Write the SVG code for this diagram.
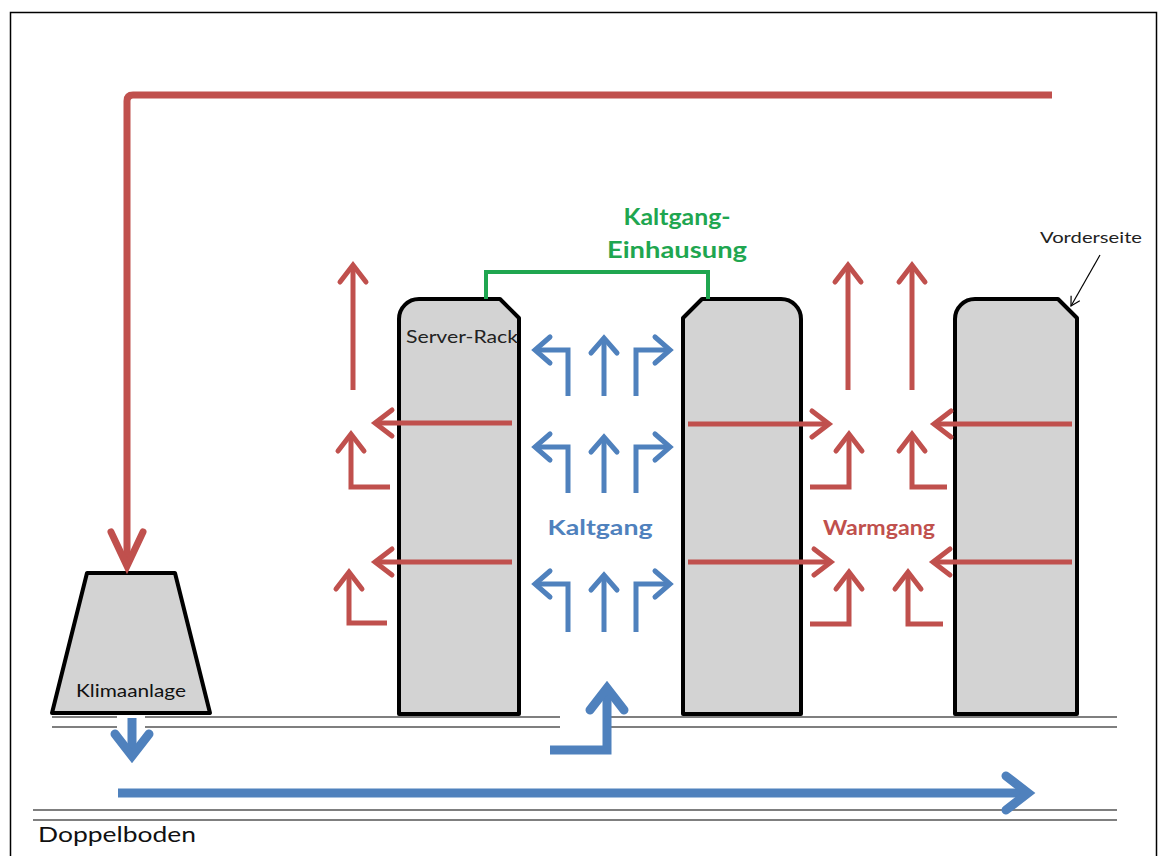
<svg xmlns="http://www.w3.org/2000/svg" width="1158" height="856" viewBox="0 0 1158 856">
<style>
.rack{fill:#d3d3d3;stroke:#000;stroke-width:4;stroke-linejoin:round}
.floor{stroke:#555;stroke-width:1.5;fill:none}
.r5{stroke:#c0504d;stroke-width:5;fill:none;marker-end:url(#hr)}
.b5{stroke:#4f81bd;stroke-width:5;fill:none;marker-end:url(#hb)}
.b9{stroke:#4f81bd;stroke-width:9;fill:none;marker-end:url(#hbl)}
.lbl{font-family:Lato,"Liberation Sans",sans-serif}
</style>
<defs>
<marker id="hr" markerUnits="userSpaceOnUse" orient="auto" overflow="visible" markerWidth="1" markerHeight="1"><path d="M-17,-13 L0,0 L-17,13" fill="none" stroke="#c0504d" stroke-width="5" stroke-linecap="round"/></marker>
<marker id="hrl" markerUnits="userSpaceOnUse" orient="auto" overflow="visible" markerWidth="1" markerHeight="1"><path d="M-34,-16 L0,0 L-34,16" fill="none" stroke="#c0504d" stroke-width="7" stroke-linecap="round"/></marker>
<marker id="hb" markerUnits="userSpaceOnUse" orient="auto" overflow="visible" markerWidth="1" markerHeight="1"><path d="M-15,-13 L0,0 L-15,13" fill="none" stroke="#4f81bd" stroke-width="5" stroke-linecap="round"/></marker>
<marker id="hbl" markerUnits="userSpaceOnUse" orient="auto" overflow="visible" markerWidth="1" markerHeight="1"><path d="M-22,-17 L0,0 L-22,17" fill="none" stroke="#4f81bd" stroke-width="9" stroke-linecap="round"/></marker>
<marker id="hk" markerUnits="userSpaceOnUse" orient="auto" overflow="visible" markerWidth="1" markerHeight="1"><path d="M-9,-5 L0,0 L-9,5" fill="none" stroke="#000" stroke-width="1.2"/></marker>
</defs>
<rect x="0" y="0" width="1158" height="856" fill="#fff"/>
<rect x="10.5" y="12.5" width="1146" height="860" fill="none" stroke="#000" stroke-width="1.5"/>

<g id="floor">
<path class="floor" d="M52 717H117M145 717H560M608 717H1117M52 727H117M145 727H560M608 727H1117M33 810H1117M33 820H1117"/>
</g>

<g id="klimaanlage">
<path class="rack" d="M87 573 L175 573 L210 713 L52 713 Z"/>
<text class="lbl" x="76" y="697" font-size="18" textLength="110" lengthAdjust="spacingAndGlyphs" fill="#111">Klimaanlage</text>
</g>

<g id="rack1">
<path class="rack" d="M399 714 L399 319 A20 20 0 0 1 419 299 L500 299 L519 318 L519 714 Z"/>
</g>
<g id="rack2">
<path class="rack" d="M683 714 L683 318 L702 299 L781 299 A20 20 0 0 1 801 319 L801 714 Z"/>
</g>
<g id="rack3">
<path class="rack" d="M955 714 L955 319 A20 20 0 0 1 975 299 L1058 299 L1077 318 L1077 714 Z"/>
</g>

<g id="einhausung">
<path d="M486 299 L486 272 L708 272 L708 299" fill="none" stroke="#1fa650" stroke-width="4"/>
</g>

<g id="connectors">
<path d="M1052 95 L133 95 Q127 95 127 101 L127 566" fill="none" stroke="#c0504d" stroke-width="7" marker-end="url(#hrl)"/>
<path class="r5" d="M353 390 L353 265"/>
<path class="r5" d="M512 423 L375 423"/>
<path class="r5" d="M390 487 L351 487 L351 434"/>
<path class="r5" d="M512 562 L375 562"/>
<path class="r5" d="M387 623 L349 623 L349 572"/>
<path class="r5" d="M848 390 L848 265"/>
<path class="r5" d="M912 390 L912 265"/>
<path class="r5" d="M688 424 L829 424"/>
<path class="r5" d="M1072 424 L934 424"/>
<path class="r5" d="M810 487 L849 487 L849 434"/>
<path class="r5" d="M947 487 L912 487 L912 434"/>
<path class="r5" d="M688 562 L831 562"/>
<path class="r5" d="M1072 562 L933 562"/>
<path class="r5" d="M810 624 L849 624 L849 572"/>
<path class="r5" d="M943 624 L908 624 L908 572"/>
<path class="b5" d="M568 396 L568 350 L535 350"/>
<path class="b5" d="M604 396 L604 338"/>
<path class="b5" d="M636 396 L636 350 L670 350"/>
<path class="b5" d="M568 493 L568 447 L535 447"/>
<path class="b5" d="M604 493 L604 437"/>
<path class="b5" d="M636 493 L636 447 L670 447"/>
<path class="b5" d="M568 632 L568 584 L535 584"/>
<path class="b5" d="M604 632 L604 575"/>
<path class="b5" d="M636 632 L636 584 L670 584"/>
<path class="b9" d="M132 718 L132 756"/>
<path class="b9" d="M550 750 L607 750 L607 688"/>
<path class="b9" d="M118 793 L1028 793"/>
<path d="M1100 255 L1071 306" fill="none" stroke="#000" stroke-width="1.2" marker-end="url(#hk)"/>
</g>

<g id="labels">
<text class="lbl" x="677" y="225" font-size="22" font-weight="bold" fill="#1fa650" text-anchor="middle" textLength="107" lengthAdjust="spacingAndGlyphs">Kaltgang-</text>
<text class="lbl" x="677" y="258" font-size="22" font-weight="bold" fill="#1fa650" text-anchor="middle" textLength="140" lengthAdjust="spacingAndGlyphs">Einhausung</text>
<text class="lbl" x="600" y="535" font-size="20" font-weight="bold" fill="#4f81bd" text-anchor="middle" textLength="105" lengthAdjust="spacingAndGlyphs">Kaltgang</text>
<text class="lbl" x="879" y="535" font-size="20" font-weight="bold" fill="#c0504d" text-anchor="middle" textLength="112" lengthAdjust="spacingAndGlyphs">Warmgang</text>
<text class="lbl" x="406" y="343" font-size="17" fill="#222" textLength="112" lengthAdjust="spacingAndGlyphs">Server-Rack</text>
<text class="lbl" x="1040" y="243" font-size="16" fill="#222" textLength="102" lengthAdjust="spacingAndGlyphs">Vorderseite</text>
<text class="lbl" x="38" y="842" font-size="22" fill="#111" textLength="158" lengthAdjust="spacingAndGlyphs">Doppelboden</text>
</g>
</svg>
